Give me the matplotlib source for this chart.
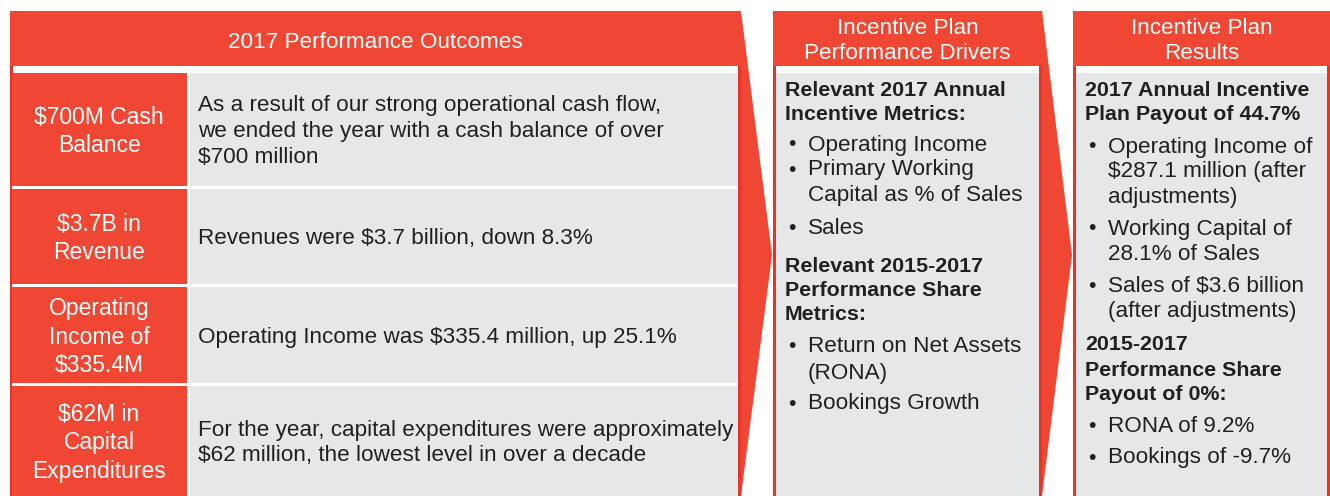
import matplotlib
matplotlib.use("Agg")
import matplotlib.pyplot as plt
from matplotlib.patches import Rectangle, Polygon

plt.rcParams["font.family"] = ["Liberation Sans", "DejaVu Sans"]

RED = "#EF4733"
EDGE = "#E8332A"
GRAY = "#E6E7E8"
INK = "#231F20"
FS = 16.2      # body text
FS_HEAD = 15.4  # bold headings in the list panels
LS = 1.3

# panel 1 content
TITLE_1 = "2017 Performance Outcomes"
OUTCOME_LABELS = ["$700M Cash\nBalance", "$3.7B in\nRevenue",
                  "Operating\nIncome of\n$335.4M", "$62M in\nCapital\nExpenditures"]
OUTCOME_TEXTS = [
    "As a result of our strong operational cash flow,\nwe ended the year with a cash balance of over\n$700 million",
    "Revenues were $3.7 billion, down 8.3%",
    "Operating Income was $335.4 million, up 25.1%",
    "For the year, capital expenditures were approximately\n$62 million, the lowest level in over a decade",
]
ROW_TOPS = [73, 189, 287, 386]
ROW_BOTTOMS = [186, 284, 383, 496]

# panel 2 / 3 content: (kind, text, y)
TITLE_2 = "Incentive Plan\nPerformance Drivers"
DRIVERS = [
    ("h", "Relevant 2017 Annual", 89), ("h", "Incentive Metrics:", 113),
    ("b", "Operating Income", 143), ("b", "Primary Working", 168),
    ("c", "Capital as % of Sales", 194), ("b", "Sales", 226),
    ("h", "Relevant 2015-2017", 264), ("h", "Performance Share", 289),
    ("h", "Metrics:", 313),
    ("b", "Return on Net Assets", 344), ("c", "(RONA)", 371),
    ("b", "Bookings Growth", 402),
]
TITLE_3 = "Incentive Plan\nResults"
RESULTS = [
    ("h", "2017 Annual Incentive", 89), ("h", "Plan Payout of 44.7%", 113),
    ("b", "Operating Income of", 145), ("c", "$287.1 million (after", 170),
    ("c", "adjustments)", 196),
    ("b", "Working Capital of", 227), ("c", "28.1% of Sales", 252),
    ("b", "Sales of $3.6 billion", 284), ("c", "(after adjustments)", 310),
    ("h", "2015-2017", 343), ("h", "Performance Share", 368),
    ("h", "Payout of 0%:", 392),
    ("b", "RONA of 9.2%", 424), ("b", "Bookings of -9.7%", 456),
]

fig = plt.figure(figsize=(13.3, 4.96), dpi=100)
ax = fig.add_axes([0, 0, 1, 1])
ax.set_xlim(0, 1330)
ax.set_ylim(496, 0)
ax.axis("off")


def rect(x0, y0, x1, y1, color):
    ax.add_patch(Rectangle((x0, y0), x1 - x0, y1 - y0, facecolor=color,
                           edgecolor="none", lw=0))


def panel(x0, x1, title, title_y):
    # red frame + header, white gap, gray body
    rect(x0, 11, x1, 496, EDGE)
    rect(x0, 11, x1, 66, RED)
    rect(x0 + 3, 66, x1 - 3, 73, "white")
    ax.text((x0 + x1) / 2, title_y, title, color="white", fontsize=FS,
            ha="center", va="center", linespacing=1.22)


def wedge(x, apex):
    ax.add_patch(Polygon([(x, 11), (apex, 255), (x, 496)], closed=True,
                         facecolor=RED, edgecolor="none"))


# panel 1
panel(10, 741, TITLE_1, 42)
rect(12, 73, 738, 496, "white")
for lab, txt, top, bot in zip(OUTCOME_LABELS, OUTCOME_TEXTS, ROW_TOPS, ROW_BOTTOMS):
    rect(12, top, 187, bot, RED)
    rect(190, top, 738, bot, GRAY)
    mid = (top + bot) / 2 + 2
    ax.text(99, mid, lab, color="white", fontsize=16.5, ha="center",
            va="center", linespacing=LS)
    ax.text(198, mid, txt, color=INK, fontsize=FS, ha="left",
            va="center", linespacing=LS)
wedge(741, 772)


def list_panel(x0, x1, title, items):
    panel(x0, x1, title, 41)
    rect(x0 + 3, 73, x1 - 3, 496, GRAY)
    for kind, txt, y in items:
        y = y + 2
        if kind == "h":
            ax.text(x0 + 12, y, txt, color=INK, fontsize=FS_HEAD,
                    fontweight="bold", ha="left", va="center")
        else:
            if kind == "b":
                ax.text(x0 + 15, y, "\u2022", color=INK, fontsize=FS - 1,
                        ha="left", va="center")
            ax.text(x0 + 35, y, txt, color=INK, fontsize=FS, ha="left",
                    va="center")


list_panel(773, 1042, TITLE_2, DRIVERS)
wedge(1042, 1072)
list_panel(1073, 1330, TITLE_3, RESULTS)

fig.savefig("out.png", dpi=100)
